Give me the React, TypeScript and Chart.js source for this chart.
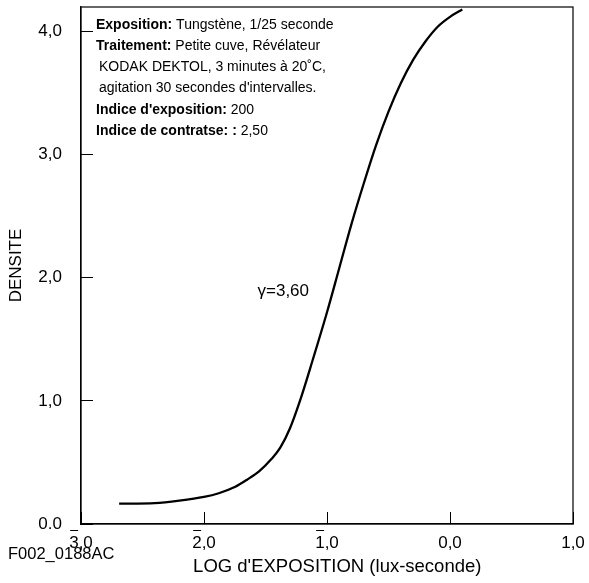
import React, { useEffect, useRef } from 'react';
import { Chart, registerables } from 'chart.js';

Chart.register(...registerables);

// Characteristic curve (log exposure vs density)
const logExposure = [-2.69, -2.4, -2.2, -2.0, -1.88, -1.75, -1.65, -1.55, -1.45, -1.38, -1.3, -1.22, -1.12, -1.0, -0.9, -0.8, -0.7, -0.6, -0.5, -0.4, -0.3, -0.2, -0.1, 0.0, 0.1];
const density = [0.165, 0.17, 0.19, 0.22, 0.25, 0.3, 0.36, 0.43, 0.53, 0.62, 0.78, 1.0, 1.32, 1.72, 2.08, 2.44, 2.77, 3.08, 3.35, 3.58, 3.77, 3.92, 4.04, 4.12, 4.18];

// Axes
const xTickValues = [-3, -2, -1, 0, 1];
const xTickLabels = ['3,0', '2,0', '1,0', '0,0', '1,0'];
const xTickBar = [true, true, true, false, false];
const yTickValues = [0, 1, 2, 3, 4];
const yTickLabels = ['0.0', '1,0', '2,0', '3,0', '4,0'];
const xTitle = "LOG d'EXPOSITION (lux-seconde)";
const yTitle = 'DENSITE';
const figureCode = 'F002_0188AC';
const gammaLabel = 'γ=3,60';

// Header notes: [text, bold]
const headerLines: [string, boolean][][] = [
  [['Exposition:', true], [' Tungstène, 1/25 seconde', false]],
  [['Traitement:', true], [' Petite cuve, Révélateur', false]],
  [['KODAK DEKTOL, 3 minutes à 20˚C,', false]],
  [["agitation 30 secondes d'intervalles.", false]],
  [["Indice d'exposition:", true], [' 200', false]],
  [['Indice de contratse: :', true], [' 2,50', false]],
];

const FONT = '"Liberation Sans", Arial, sans-serif';
const TICK_SIZE = 17;
const TICK_LEN = -12;
const X_PAD = 21;

const zeroPad = (s: any) => {
  s.paddingTop = 0;
  s.paddingBottom = 0;
  s.paddingLeft = 0;
  s.paddingRight = 0;
};

export default function App() {
  const ref = useRef<HTMLCanvasElement | null>(null);

  useEffect(() => {
    if (!ref.current) return;

    const framePlugin = {
      id: 'frame',
      afterDraw(chart: any) {
        const { ctx, chartArea: a } = chart;
        ctx.save();
        ctx.strokeStyle = '#000';
        ctx.lineWidth = 1.2;
        ctx.strokeRect(a.left, a.top, a.right - a.left, a.bottom - a.top);

        // overbars on negative characteristic tick labels
        const xs = chart.scales.x;
        ctx.font = `${TICK_SIZE}px ${FONT}`;
        const lh = TICK_SIZE * 1.2;
        const mid = xs.top + TICK_LEN + X_PAD + lh / 2;
        const barY = Math.round(mid - TICK_SIZE * 0.36 - 7) + 0.5;
        ctx.lineWidth = 1;
        xTickValues.forEach((v, i) => {
          if (!xTickBar[i]) return;
          const label = xTickLabels[i];
          const px = xs.getPixelForValue(v);
          const w = ctx.measureText(label).width;
          const w1 = ctx.measureText(label[0]).width;
          const x0 = px - w / 2;
          ctx.beginPath();
          ctx.moveTo(x0 + 1, barY);
          ctx.lineTo(x0 + w1 - 0.5, barY);
          ctx.stroke();
        });

        // header notes
        ctx.fillStyle = '#000';
        ctx.textBaseline = 'middle';
        ctx.textAlign = 'left';
        const lineY = [25, 46, 67, 88, 110, 131];
        const lineX = [96, 96, 99, 99, 96, 96];
        headerLines.forEach((segs, i) => {
          let x = lineX[i];
          segs.forEach(([t, b]) => {
            ctx.font = `${b ? 'bold ' : ''}14px ${FONT}`;
            ctx.fillText(t, x, lineY[i]);
            x += ctx.measureText(t).width;
          });
        });

        // gamma label, anchored to data coordinates
        const ys = chart.scales.y;
        ctx.font = `17px ${FONT}`;
        ctx.fillText(gammaLabel, xs.getPixelForValue(-1.565), ys.getPixelForValue(1.89));

        // figure code
        ctx.font = `16.5px ${FONT}`;
        ctx.fillText(figureCode, 8, 554);
        ctx.restore();
      },
    };

    const chart = new Chart(ref.current, {
      type: 'scatter',
      data: {
        datasets: [
          {
            data: logExposure.map((x, i) => ({ x, y: density[i] })),
            showLine: true,
            borderColor: '#000',
            borderWidth: 2.3,
            pointRadius: 0,
            cubicInterpolationMode: 'monotone',
            fill: false,
          },
        ],
      },
      options: {
        animation: false,
        responsive: false,
        maintainAspectRatio: false,
        layout: { padding: { left: 0, top: 7, right: 16, bottom: 0 } },
        plugins: { legend: { display: false }, tooltip: { enabled: false } },
        scales: {
          x: {
            type: 'linear',
            min: -3,
            max: 1,
            afterBuildTicks: (s: any) => {
              s.ticks = xTickValues.map((v) => ({ value: v }));
            },
            afterFit: (s: any) => {
              s.height = 59;
              zeroPad(s);
            },
            ticks: {
              callback: (v: any) => xTickLabels[xTickValues.indexOf(Math.round(Number(v)))] ?? '',
              color: '#000',
              font: { family: FONT, size: TICK_SIZE },
              padding: X_PAD,
              maxRotation: 0,
              autoSkip: false,
            },
            grid: { drawOnChartArea: false, drawTicks: true, tickLength: TICK_LEN, color: '#000', lineWidth: 1 },
            border: { display: true, color: '#000', width: 1.2 },
            title: { display: true, text: '    ' + xTitle, color: '#000', font: { family: FONT, size: 18.5 }, padding: { top: 0, bottom: 5 } },
          },
          y: {
            type: 'linear',
            min: 0,
            max: 4.2,
            afterBuildTicks: (s: any) => {
              s.ticks = yTickValues.map((v) => ({ value: v }));
            },
            afterFit: (s: any) => {
              s.width = 81;
              zeroPad(s);
            },
            ticks: {
              callback: (v: any) => yTickLabels[yTickValues.indexOf(Math.round(Number(v)))] ?? '',
              color: '#000',
              font: { family: FONT, size: TICK_SIZE },
              padding: 31,
              autoSkip: false,
            },
            grid: { drawOnChartArea: false, drawTicks: true, tickLength: TICK_LEN, color: '#000', lineWidth: 1 },
            border: { display: true, color: '#000', width: 1.2 },
            title: { display: true, text: yTitle, color: '#000', font: { family: FONT, size: 17 }, padding: { top: 6.5, bottom: 0 } },
          },
        },
      },
      plugins: [framePlugin],
    } as any);

    return () => chart.destroy();
  }, []);

  return (
    <div style={{ position: 'absolute', left: 0, top: 0, width: 589, height: 583, background: '#fff' }}>
      <canvas ref={ref} width={589} height={583} style={{ width: 589, height: 583 }} />
    </div>
  );
}
